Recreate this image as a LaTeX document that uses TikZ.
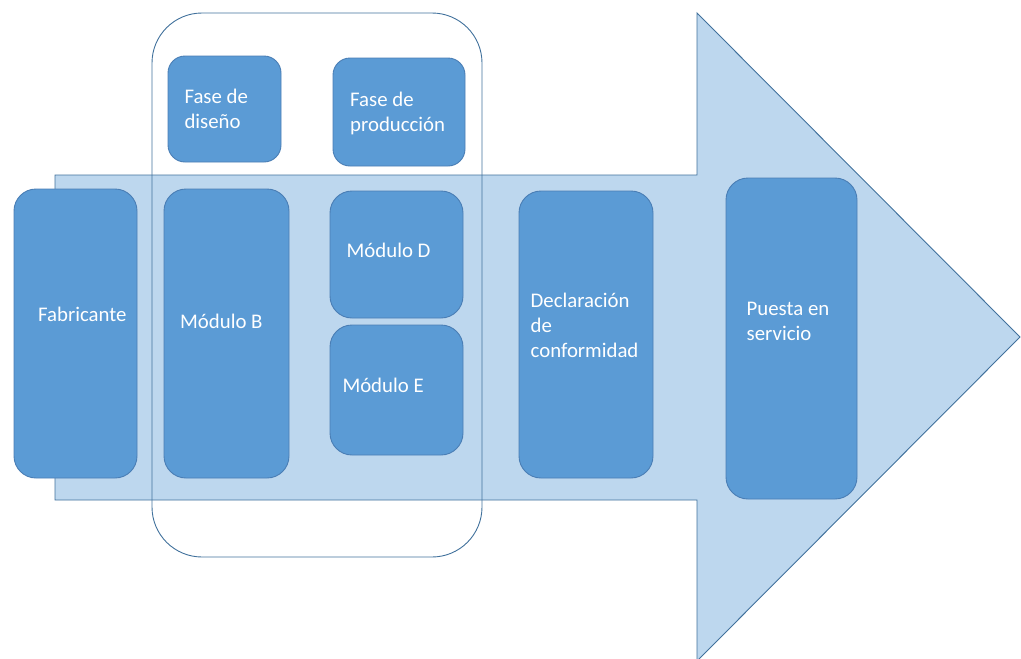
\documentclass[tikz,border=0pt]{standalone}
\usepackage{fontspec}
\setmainfont{Carlito}
\usetikzlibrary{positioning}
\definecolor{arrowfill}{HTML}{BDD7EE}
\definecolor{arrowline}{HTML}{41719C}
\definecolor{boxfill}{HTML}{5B9BD5}
\definecolor{boxline}{HTML}{4A7EB5}
\tikzset{
  modbox/.style = {draw = boxline, fill = boxfill, line width = 0.9pt, rounded corners = 22pt, inner sep = 0pt},
  fasebox/.style = {modbox, rounded corners = 17pt},
  txt/.style = {text = white, align = left, inner sep = 0pt, font = \fontsize{20.8}{25}\selectfont},
}
\begin{document}
\begin{tikzpicture}[x = 1pt, y = -1pt]
			\useasboundingbox (0,0) rectangle (1021,659);

			% flecha de fondo
			\draw [arrowline, fill = arrowfill, line width = 0.9pt]
				(55,175) -- (697,175) -- (697,13) -- (1020,337) -- (697,661) -- (697,500) -- (55,500) -- cycle;

			% marco de los modulos
			\draw [arrowline, line width = 0.9pt, rounded corners = 50pt] (152,13) rectangle (482,557);

			\begin{scope}
				\node [modbox, minimum width = 123pt, minimum height = 289pt] (fab) at (75.5,333.5) {};
				\node [modbox, minimum width = 125pt, minimum height = 289pt] (modB) at (226.5,333.5) {};
				\node [fasebox, minimum width = 113pt, minimum height = 106pt] (diseno) at (224.5,109) {};
				\node [fasebox, minimum width = 132pt, minimum height = 108pt] (produccion) at (399,112) {};
				\node [modbox, minimum width = 133pt, minimum height = 127pt] (modD) at (396.5,254.5) {};
				\node [modbox, minimum width = 133pt, minimum height = 130pt] (modE) at (396.5,390) {};
				\node [modbox, minimum width = 134pt, minimum height = 287pt] (decl) at (586,334.5) {};
				\node [modbox, minimum width = 131pt, minimum height = 321pt] (puesta) at (791.5,338.5) {};
			\end{scope}

			% base = linea de base de la ultima linea
			\begin{scope}[every node/.style = {txt, anchor = base west}]
				\node (fabT) at (38,321.7) {Fabricante};
				\node (modBT) at (180,328.3) {Módulo B};
				\node (disenoT) at (184.3,128.3) {Fase de\\diseño};
				\node (produccionT) at (350,131.5) {Fase de\\producción};
				\node (modDT) at (346.5,257.3) {Módulo D};
				\node (modET) at (342.3,392) {Módulo E};
				\node (declT) at (530.5,357) {Declaración\\de\\conformidad};
				\node (puestaT) at (746.5,340) {Puesta en\\servicio};
			\end{scope}
		\end{tikzpicture}
\end{document}
